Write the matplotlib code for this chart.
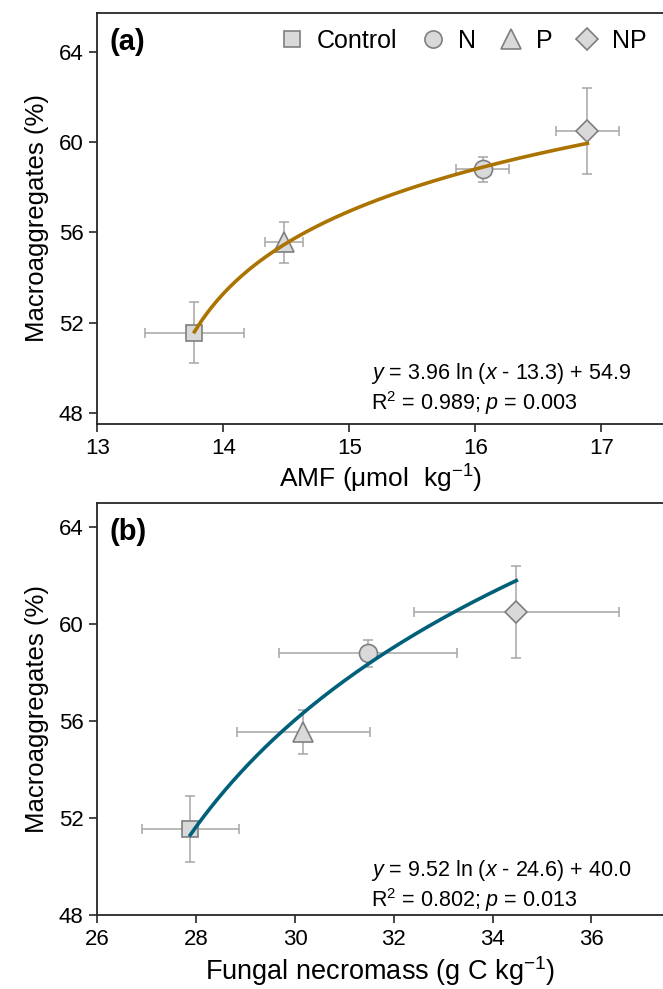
import numpy as np
import matplotlib
matplotlib.use("Agg")
import matplotlib.pyplot as plt
from matplotlib.lines import Line2D

plt.rcParams["font.family"] = ["Liberation Sans", "DejaVu Sans"]
plt.rcParams["mathtext.fontset"] = "custom"
plt.rcParams["mathtext.rm"] = "Liberation Sans"
plt.rcParams["mathtext.it"] = "Liberation Sans:italic"

# Data
treatments = ["Control", "N", "P", "NP"]
markers = ["s", "o", "^", "D"]
macro = [51.55, 58.8, 55.55, 60.5]
macro_err = [1.36, 0.55, 0.9, 1.9]

amf = [13.77, 16.06, 14.48, 16.89]
amf_err = [0.39, 0.21, 0.15, 0.25]

necro = [27.88, 31.48, 30.17, 34.48]
necro_err = [0.98, 1.8, 1.34, 2.07]

# fitted curves y = a ln(x - c) + b
fit_a = [3.96, 13.34, 54.93]
fit_b = [9.52, 24.6, 40.0]

face = "#d9d9d9"
edge = "#7f7f7f"
ecol = "#a6a6a6"
msizes = {"s": 11.5, "o": 13, "^": 14.5, "D": 11.5}

fig = plt.figure(figsize=(6.63, 9.89), dpi=100)
ax1 = fig.add_axes([0.147, 0.5713, 0.853, 0.4156])
ax2 = fig.add_axes([0.147, 0.0748, 0.853, 0.4164])


def draw_panel(ax, x, xerr, fit, color, xlim, ylim, xticks, xlabel, eq1, eq2, tag, ey, xls):
    for i in range(len(treatments)):
        ax.errorbar(x[i], macro[i], xerr=xerr[i], yerr=macro_err[i], fmt="none",
                    ecolor=ecol, elinewidth=1.1, capsize=3.5, capthick=1.1, zorder=2)
    xs = np.linspace(min(x), max(x), 200)
    ys = fit[0] * np.log(xs - fit[1]) + fit[2]
    ax.plot(xs, ys, color=color, lw=2.6, zorder=4)
    for i in range(len(treatments)):
        ax.plot(x[i], macro[i], marker=markers[i], ms=msizes[markers[i]],
                mfc=face, mec=edge, mew=1.2, ls="none", zorder=3)
    ax.set_xlim(*xlim)
    ax.set_ylim(*ylim)
    ax.set_xticks(xticks)
    ax.set_yticks([48, 52, 56, 60, 64])
    ax.spines["right"].set_visible(False)
    for s in ["left", "bottom", "top"]:
        ax.spines[s].set_linewidth(1.3)
        ax.spines[s].set_color("#262626")
    ax.tick_params(direction="out", length=6, width=1.2, color="#262626",
                   labelsize=16, pad=4)
    ax.set_xlabel(xlabel, fontsize=xls, labelpad=3)
    ax.set_ylabel("Macroaggregates (%)", fontsize=18.5, labelpad=7)
    ax.text(0.484, ey[0], eq1, transform=ax.transAxes, fontsize=15.5, va="center")
    ax.text(0.484, ey[1], eq2, transform=ax.transAxes, fontsize=15.5, va="center")
    ax.text(0.022, 0.93, tag, transform=ax.transAxes, fontsize=21,
            fontweight="bold", va="center")


draw_panel(ax1, amf, amf_err, fit_a, "#ab7300", (13, 17.49), (47.5, 65.73),
           [13, 14, 15, 16, 17], r"AMF ($\mathregular{\mu}$mol  kg$^{-1}$)",
           r"$y$ = 3.96 ln ($x$ - 13.3) + 54.9", r"R$^{2}$ = 0.989; $p$ = 0.003",
           "(a)", (0.124, 0.051), 19)
draw_panel(ax2, necro, necro_err, fit_b, "#00607a", (26, 37.45), (48, 65),
           [26, 28, 30, 32, 34, 36], r"Fungal necromass (g C kg$^{-1}$)",
           r"$y$ = 9.52 ln ($x$ - 24.6) + 40.0", r"R$^{2}$ = 0.802; $p$ = 0.013",
           "(b)", (0.109, 0.036), 19.5)

handles = [Line2D([], [], marker=m, ms=msizes[m] * 0.95, mfc=face, mec=edge, mew=1.2,
                  ls="none") for m in markers]
ax1.legend(handles, treatments, loc="upper right", ncol=4, frameon=False,
           fontsize=18, handletextpad=0.5, columnspacing=0.9,
           borderaxespad=0.25, handlelength=1.0, bbox_to_anchor=(1.0, 1.0))

fig.savefig("out.png", dpi=100)
